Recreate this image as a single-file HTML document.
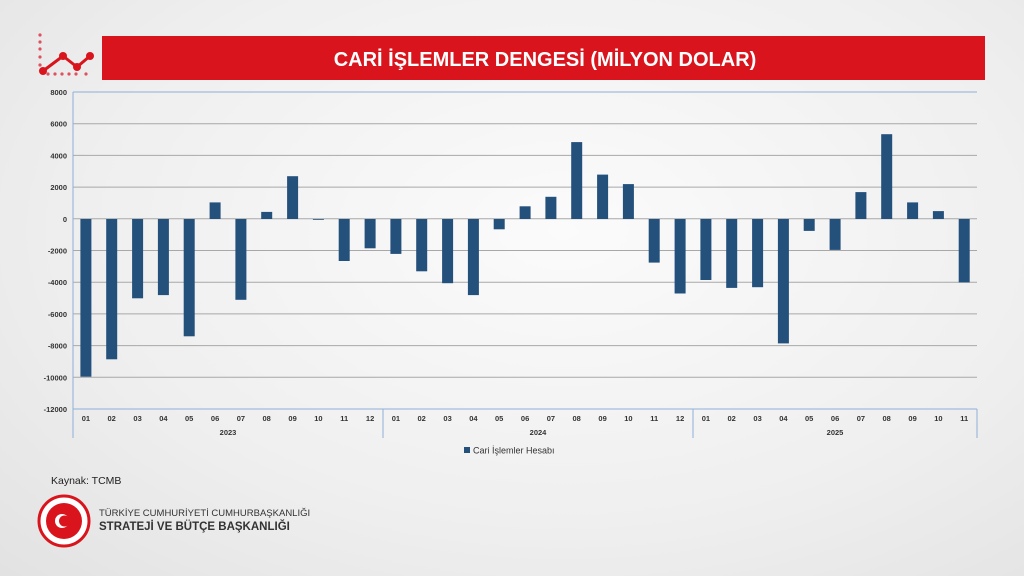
<!DOCTYPE html>
<html><head><meta charset="utf-8"><style>
html,body{margin:0;padding:0}
body{width:1024px;height:576px;overflow:hidden;background:radial-gradient(ellipse at 55% 40%,#fbfbfb 0%,#efefef 60%,#e2e2e2 100%);font-family:"Liberation Sans","DejaVu Sans",sans-serif;position:relative}
</style></head><body>
<svg width="1024" height="576" style="position:absolute;left:0;top:0" font-family="Liberation Sans, DejaVu Sans, sans-serif">
<g fill="#e05060">
<circle cx="40" cy="35" r="1.6"/><circle cx="40" cy="42" r="1.6"/><circle cx="40" cy="49" r="1.6"/><circle cx="40" cy="57" r="1.6"/><circle cx="40" cy="65" r="1.6"/>
<circle cx="48" cy="74" r="1.6"/><circle cx="55" cy="74" r="1.6"/><circle cx="62" cy="74" r="1.6"/><circle cx="69" cy="74" r="1.6"/><circle cx="76" cy="74" r="1.6"/><circle cx="86" cy="74" r="1.6"/>
</g>
<polyline points="43,71 63,56 77,67 90,56" fill="none" stroke="#d9141c" stroke-width="3"/>
<g fill="#d9141c"><circle cx="43" cy="71" r="4"/><circle cx="63" cy="56" r="4"/><circle cx="77" cy="67" r="4"/><circle cx="90" cy="56" r="4"/></g>
<rect x="102" y="36" width="883" height="44" fill="#d9141c"/>
<text x="545" y="66" fill="#fff" font-size="20" font-weight="bold" text-anchor="middle">CARİ İŞLEMLER DENGESİ (MİLYON DOLAR)</text>
<g stroke="#a8a8a8" stroke-width="1">
<line x1="73" x2="977" y1="123.7" y2="123.7"/><line x1="73" x2="977" y1="155.4" y2="155.4"/><line x1="73" x2="977" y1="187.1" y2="187.1"/><line x1="73" x2="977" y1="218.8" y2="218.8"/><line x1="73" x2="977" y1="250.5" y2="250.5"/><line x1="73" x2="977" y1="282.2" y2="282.2"/><line x1="73" x2="977" y1="313.9" y2="313.9"/><line x1="73" x2="977" y1="345.6" y2="345.6"/><line x1="73" x2="977" y1="377.3" y2="377.3"/>
</g>
<g stroke="#8fb0d8" stroke-width="1" fill="none">
<line x1="73" x2="977" y1="92" y2="92"/><line x1="73" x2="977" y1="409" y2="409"/><line x1="73" x2="73" y1="92" y2="438"/>
<line x1="383" x2="383" y1="409" y2="438"/><line x1="693" x2="693" y1="409" y2="438"/><line x1="977" x2="977" y1="409" y2="438"/>
</g>
<g font-size="7.5" font-weight="bold" fill="#333" text-anchor="end">
<text x="67" y="95">8000</text><text x="67" y="126.7">6000</text><text x="67" y="158.4">4000</text><text x="67" y="190.1">2000</text><text x="67" y="221.8">0</text><text x="67" y="253.5">-2000</text><text x="67" y="285.2">-4000</text><text x="67" y="316.9">-6000</text><text x="67" y="348.6">-8000</text><text x="67" y="380.3">-10000</text><text x="67" y="412">-12000</text>
</g>
<g fill="#24507c">
<rect x="80.4" y="219" width="11" height="157.7"/>
<rect x="106.2" y="219" width="11" height="140.3"/>
<rect x="132.1" y="219" width="11" height="79.3"/>
<rect x="157.9" y="219" width="11" height="76.1"/>
<rect x="183.7" y="219" width="11" height="117.3"/>
<rect x="209.6" y="202.4" width="11" height="16.6"/>
<rect x="235.4" y="219" width="11" height="80.8"/>
<rect x="261.2" y="211.9" width="11" height="7.1"/>
<rect x="287.1" y="176.2" width="11" height="42.8"/>
<rect x="312.9" y="219" width="11" height="0.8"/>
<rect x="338.7" y="219" width="11" height="42"/>
<rect x="364.6" y="219" width="11" height="29.3"/>
<rect x="390.4" y="219" width="11" height="34.9"/>
<rect x="416.2" y="219" width="11" height="52.3"/>
<rect x="442.1" y="219" width="11" height="64.2"/>
<rect x="467.9" y="219" width="11" height="76.1"/>
<rect x="493.7" y="219" width="11" height="10.3"/>
<rect x="519.6" y="206.3" width="11" height="12.7"/>
<rect x="545.4" y="196.8" width="11" height="22.2"/>
<rect x="571.2" y="142.1" width="11" height="76.9"/>
<rect x="597.1" y="174.6" width="11" height="44.4"/>
<rect x="622.9" y="184.1" width="11" height="34.9"/>
<rect x="648.7" y="219" width="11" height="43.6"/>
<rect x="674.6" y="219" width="11" height="74.5"/>
<rect x="700.4" y="219" width="11" height="61"/>
<rect x="726.2" y="219" width="11" height="68.9"/>
<rect x="752.1" y="219" width="11" height="68.2"/>
<rect x="777.9" y="219" width="11" height="124.4"/>
<rect x="803.7" y="219" width="11" height="11.9"/>
<rect x="829.6" y="219" width="11" height="30.9"/>
<rect x="855.4" y="192.1" width="11" height="26.9"/>
<rect x="881.2" y="134.2" width="11" height="84.8"/>
<rect x="907.1" y="202.4" width="11" height="16.6"/>
<rect x="932.9" y="211.1" width="11" height="7.9"/>
<rect x="958.7" y="219" width="11" height="63.4"/>
</g>
<g font-size="7.5" font-weight="bold" fill="#333" text-anchor="middle">
<text x="85.9" y="421">01</text><text x="111.7" y="421">02</text><text x="137.6" y="421">03</text><text x="163.4" y="421">04</text><text x="189.2" y="421">05</text><text x="215.1" y="421">06</text><text x="240.9" y="421">07</text><text x="266.7" y="421">08</text><text x="292.6" y="421">09</text><text x="318.4" y="421">10</text><text x="344.2" y="421">11</text><text x="370.1" y="421">12</text>
<text x="395.9" y="421">01</text><text x="421.7" y="421">02</text><text x="447.6" y="421">03</text><text x="473.4" y="421">04</text><text x="499.2" y="421">05</text><text x="525.1" y="421">06</text><text x="550.9" y="421">07</text><text x="576.7" y="421">08</text><text x="602.6" y="421">09</text><text x="628.4" y="421">10</text><text x="654.2" y="421">11</text><text x="680.1" y="421">12</text>
<text x="705.9" y="421">01</text><text x="731.7" y="421">02</text><text x="757.6" y="421">03</text><text x="783.4" y="421">04</text><text x="809.2" y="421">05</text><text x="835.1" y="421">06</text><text x="860.9" y="421">07</text><text x="886.7" y="421">08</text><text x="912.6" y="421">09</text><text x="938.4" y="421">10</text><text x="964.2" y="421">11</text>
<text x="228" y="435">2023</text><text x="538" y="435">2024</text><text x="835" y="435">2025</text>
</g>
<rect x="464" y="447" width="6" height="6" fill="#24507c"/>
<text x="473" y="453.5" font-size="9" fill="#333">Cari İşlemler Hesabı</text>
<text x="51" y="484" font-size="10.5" fill="#222">Kaynak: TCMB</text>
<circle cx="64" cy="521" r="25" fill="#fff" stroke="#d9141c" stroke-width="3"/>
<circle cx="64" cy="521" r="18" fill="#d9141c"/>
<circle cx="62" cy="521" r="7" fill="#fff"/><circle cx="64.5" cy="521" r="5.5" fill="#d9141c"/>
<text x="99" y="516" font-size="9.5" fill="#333">TÜRKİYE CUMHURİYETİ CUMHURBAŞKANLIĞI</text>
<text x="99" y="530" font-size="11.5" font-weight="bold" fill="#333">STRATEJİ VE BÜTÇE BAŞKANLIĞI</text>
</svg>
</body></html>
